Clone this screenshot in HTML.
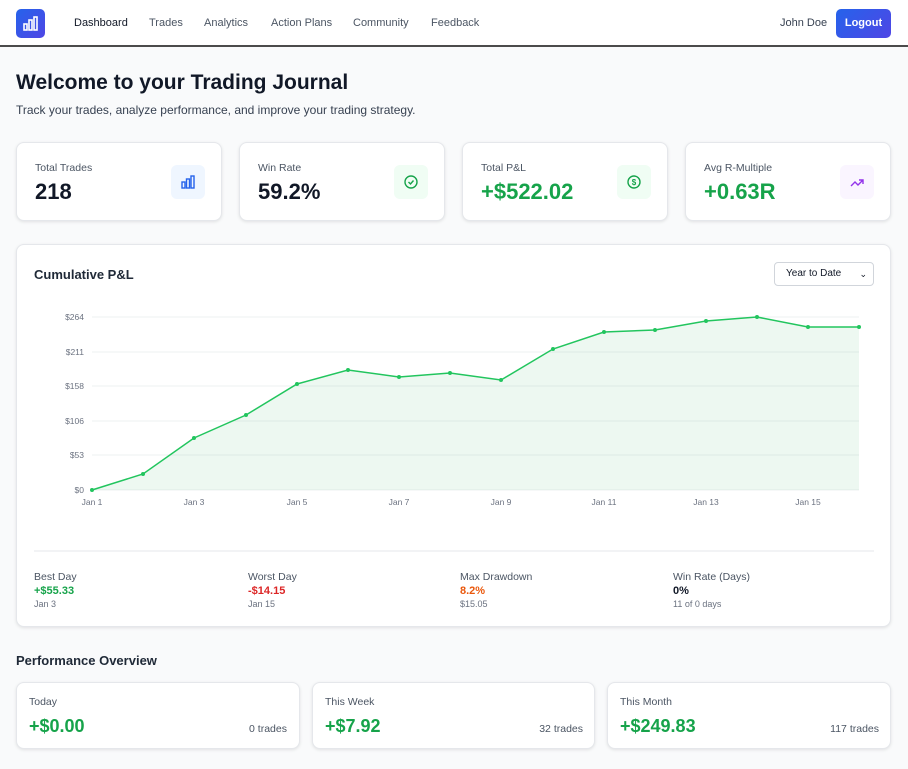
<!DOCTYPE html>
<html><head><meta charset="utf-8"><style>
*{box-sizing:border-box;margin:0;padding:0}
body{width:908px;height:769px;background:#f9fafb;font-family:"Liberation Sans",Arial,sans-serif;color:#111827;position:relative;overflow:hidden}
.a{position:absolute}
.nav{left:0;top:0;width:908px;height:47px;background:#fff;border-bottom:2px solid #4b4b4b}
.nl{font-size:11px;color:#4b5563;top:17px}
.card{background:#fff;border:1px solid #e5e7eb;border-radius:8px;box-shadow:0 1px 3px rgba(0,0,0,.1)}
.lbl{font-size:10.5px;color:#4b5563}
.big{font-size:22px;font-weight:bold}
.g{color:#16a34a}
.ic{width:34px;height:34px;border-radius:6px;top:22px;display:flex;align-items:center;justify-content:center}
.sm{font-size:10px;color:#6b7280}
</style></head><body>
<div class="a nav"></div>
<div class="a" style="left:16px;top:9px;width:29px;height:29px;border-radius:5px;background:linear-gradient(135deg,#2563eb,#4f46e5)">
<svg width="29" height="29" viewBox="0 0 29 29"><g fill="none" stroke="#fff" stroke-width="1.6"><rect x="8" y="15" width="3" height="6"/><rect x="13" y="11" width="3" height="10"/><rect x="18" y="8" width="3" height="13"/></g></svg></div>
<div class="a nl" style="left:74px;color:#111827">Dashboard</div>
<div class="a nl" style="left:149px">Trades</div>
<div class="a nl" style="left:204px">Analytics</div>
<div class="a nl" style="left:271px">Action Plans</div>
<div class="a nl" style="left:353px">Community</div>
<div class="a nl" style="left:431px">Feedback</div>
<div class="a nl" style="left:780px;color:#374151">John Doe</div>
<div class="a" style="left:836px;top:9px;width:55px;height:29px;border-radius:5px;background:linear-gradient(135deg,#2563eb,#4f46e5);color:#fff;font-size:11px;font-weight:bold;text-align:center;line-height:29px">Logout</div>

<div class="a" style="left:16px;top:71px;font-size:21px;font-weight:bold">Welcome to your Trading Journal</div>
<div class="a" style="left:16px;top:103px;font-size:12px;color:#374151">Track your trades, analyze performance, and improve your trading strategy.</div>

<div class="a card" style="left:16px;top:142px;width:206px;height:79px"><div class="a lbl" style="left:18px;top:19px">Total Trades</div><div class="a big" style="left:18px;top:36px">218</div><div class="a ic" style="left:154px;background:#eff6ff"><svg width="16" height="16" viewBox="0 0 16 16"><g fill="none" stroke="#2563eb" stroke-width="1.4"><rect x="2" y="8" width="3" height="6"/><rect x="6.5" y="5" width="3" height="9"/><rect x="11" y="2" width="3" height="12"/></g></svg></div></div>
<div class="a card" style="left:239px;top:142px;width:206px;height:79px"><div class="a lbl" style="left:18px;top:19px">Win Rate</div><div class="a big" style="left:18px;top:36px">59.2%</div><div class="a ic" style="left:154px;background:#f0fdf4"><svg width="16" height="16" viewBox="0 0 16 16"><circle cx="8" cy="8" r="6" fill="none" stroke="#16a34a" stroke-width="1.4"/><path d="M5.5 8l2 2 3-3.5" fill="none" stroke="#16a34a" stroke-width="1.4"/></svg></div></div>
<div class="a card" style="left:462px;top:142px;width:206px;height:79px"><div class="a lbl" style="left:18px;top:19px">Total P&amp;L</div><div class="a big g" style="left:18px;top:36px">+$522.02</div><div class="a ic" style="left:154px;background:#f0fdf4"><svg width="16" height="16" viewBox="0 0 16 16"><circle cx="8" cy="8" r="6" fill="none" stroke="#16a34a" stroke-width="1.4"/><text x="8" y="11" font-size="8" font-weight="bold" text-anchor="middle" fill="#16a34a" font-family="Liberation Sans">$</text></svg></div></div>
<div class="a card" style="left:685px;top:142px;width:206px;height:79px"><div class="a lbl" style="left:18px;top:19px">Avg R-Multiple</div><div class="a big g" style="left:18px;top:36px">+0.63R</div><div class="a ic" style="left:154px;background:#faf5ff"><svg width="16" height="16" viewBox="0 0 16 16"><path d="M2 12l4-4 3 3 5-5M10 6h4v4" fill="none" stroke="#9333ea" stroke-width="1.4"/></svg></div></div>

<div class="a card" style="left:16px;top:244px;width:875px;height:383px"></div>
<div class="a" style="left:34px;top:267px;font-size:13px;font-weight:bold;color:#1f2937">Cumulative P&amp;L</div>
<div class="a" style="left:774px;top:262px;width:100px;height:24px;border:1px solid #d1d5db;border-radius:4px;background:#fff;font-size:10px;line-height:22px;padding-left:11px">Year to Date<span style="position:absolute;right:6px;font-size:9px">⌄</span></div>
<svg class="a" style="left:0;top:0" width="908" height="769">
<g stroke="#eef0f2" stroke-width="1"><line x1="92" x2="859" y1="317" y2="317"/><line x1="92" x2="859" y1="352" y2="352"/><line x1="92" x2="859" y1="386" y2="386"/><line x1="92" x2="859" y1="421" y2="421"/><line x1="92" x2="859" y1="455" y2="455"/><line x1="92" x2="859" y1="490" y2="490"/></g>
<g font-family="Liberation Sans" font-size="8.5" fill="#6b7280" text-anchor="end"><text x="84" y="320">$264</text><text x="84" y="355">$211</text><text x="84" y="389">$158</text><text x="84" y="424">$106</text><text x="84" y="458">$53</text><text x="84" y="493">$0</text></g>
<g font-family="Liberation Sans" font-size="8.5" fill="#6b7280" text-anchor="middle"><text x="92" y="505">Jan 1</text><text x="194" y="505">Jan 3</text><text x="297" y="505">Jan 5</text><text x="399" y="505">Jan 7</text><text x="501" y="505">Jan 9</text><text x="604" y="505">Jan 11</text><text x="706" y="505">Jan 13</text><text x="808" y="505">Jan 15</text></g>
<path d="M92 490L143 474L194 438L246 415L297 384L348 370L399 377L450 373L501 380L553 349L604 332L655 330L706 321L757 317L808 327L859 327L859 490Z" fill="#16a34a" fill-opacity="0.08"/>
<polyline points="92,490 143,474 194,438 246,415 297,384 348,370 399,377 450,373 501,380 553,349 604,332 655,330 706,321 757,317 808,327 859,327" fill="none" stroke="#22c55e" stroke-width="1.5"/>
<g fill="#22c55e"><circle cx="92" cy="490" r="2"/><circle cx="143" cy="474" r="2"/><circle cx="194" cy="438" r="2"/><circle cx="246" cy="415" r="2"/><circle cx="297" cy="384" r="2"/><circle cx="348" cy="370" r="2"/><circle cx="399" cy="377" r="2"/><circle cx="450" cy="373" r="2"/><circle cx="501" cy="380" r="2"/><circle cx="553" cy="349" r="2"/><circle cx="604" cy="332" r="2"/><circle cx="655" cy="330" r="2"/><circle cx="706" cy="321" r="2"/><circle cx="757" cy="317" r="2"/><circle cx="808" cy="327" r="2"/><circle cx="859" cy="327" r="2"/></g>
<line x1="34" x2="874" y1="551" y2="551" stroke="#e5e7eb"/>
</svg>
<div class="a lbl" style="left:34px;top:571px">Best Day</div><div class="a g" style="left:34px;top:585px;font-size:11px;font-weight:bold">+$55.33</div><div class="a sm" style="left:34px;top:599px;font-size:9px">Jan 3</div>
<div class="a lbl" style="left:248px;top:571px">Worst Day</div><div class="a" style="left:248px;top:585px;font-size:11px;font-weight:bold;color:#dc2626">-$14.15</div><div class="a sm" style="left:248px;top:599px;font-size:9px">Jan 15</div>
<div class="a lbl" style="left:460px;top:571px">Max Drawdown</div><div class="a" style="left:460px;top:585px;font-size:11px;font-weight:bold;color:#ea580c">8.2%</div><div class="a sm" style="left:460px;top:599px;font-size:9px">$15.05</div>
<div class="a lbl" style="left:673px;top:571px">Win Rate (Days)</div><div class="a" style="left:673px;top:585px;font-size:11px;font-weight:bold">0%</div><div class="a sm" style="left:673px;top:599px;font-size:9px">11 of 0 days</div>

<div class="a" style="left:16px;top:653px;font-size:13px;font-weight:bold;color:#1f2937">Performance Overview</div>
<div class="a card" style="left:16px;top:682px;width:284px;height:67px"><div class="a lbl" style="left:12px;top:13px">Today</div><div class="a g" style="left:12px;top:33px;font-size:18px;font-weight:bold">+$0.00</div><div class="a lbl" style="right:12px;top:40px">0 trades</div></div>
<div class="a card" style="left:312px;top:682px;width:283px;height:67px"><div class="a lbl" style="left:12px;top:13px">This Week</div><div class="a g" style="left:12px;top:33px;font-size:18px;font-weight:bold">+$7.92</div><div class="a lbl" style="right:11px;top:40px">32 trades</div></div>
<div class="a card" style="left:607px;top:682px;width:284px;height:67px"><div class="a lbl" style="left:12px;top:13px">This Month</div><div class="a g" style="left:12px;top:33px;font-size:18px;font-weight:bold">+$249.83</div><div class="a lbl" style="right:11px;top:40px">117 trades</div></div>
</body></html>
